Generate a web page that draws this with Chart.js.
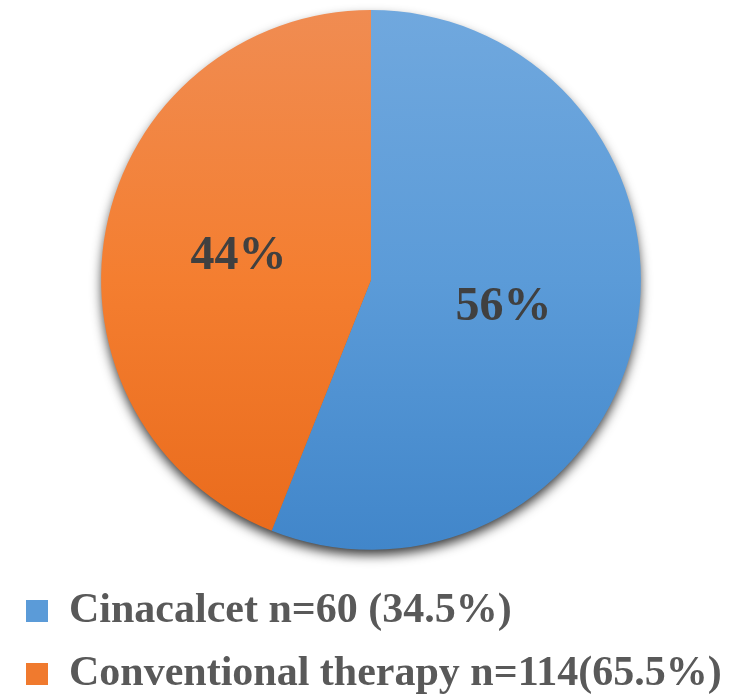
<!DOCTYPE html>
<html>
<head>
<meta charset="utf-8">
<script src="https://cdn.jsdelivr.net/npm/chart.js@4"></script>
<style>
  html, body { margin: 0; padding: 0; background: #ffffff; }
  #wrap { width: 747px; height: 698px; }
</style>
</head>
<body>
<div id="wrap"><canvas id="chart" width="747" height="698"></canvas></div>
<script>
// Treatment groups and their shares of the pie
const groups = ['Cinacalcet n=60 (34.5%)', 'Conventional therapy n=114(65.5%)'];
const shares = [56, 44];

// Vertical gradient stops per slice (top, middle, bottom)
const sliceTones = [
  ['#70a8de', '#5b9bd8', '#4186ca'],
  ['#f08c52', '#f47e30', '#e96a1b']
];
const legendTones = ['#5b9bd8', '#f07a2e'];

function sliceFill(ctx) {
  const chart = ctx.chart;
  const area = chart.chartArea;
  const i = ctx.dataIndex;
  if (!area || i === undefined) return legendTones[i || 0];
  const g = chart.ctx.createLinearGradient(0, area.top, 0, area.bottom);
  g.addColorStop(0, sliceTones[i][0]);
  g.addColorStop(0.5, sliceTones[i][1]);
  g.addColorStop(1, sliceTones[i][2]);
  return g;
}

// Soft drop shadow under the whole disc
const discShadow = {
  id: 'discShadow',
  beforeDatasetsDraw(chart) {
    const arc = chart.getDatasetMeta(0).data[0];
    if (!arc) return;
    const c = chart.ctx;
    c.save();
    c.shadowColor = 'rgba(0,0,0,0.8)';
    c.shadowBlur = 12;
    c.shadowOffsetY = 6;
    c.fillStyle = '#6e6e6e';
    c.beginPath();
    c.arc(arc.x, arc.y, arc.outerRadius - 1, 0, Math.PI * 2);
    c.fill();
    c.restore();
  }
};

// Percentage labels at the middle of each slice
const sliceLabels = {
  id: 'sliceLabels',
  afterDatasetsDraw(chart) {
    const c = chart.ctx;
    const meta = chart.getDatasetMeta(0);
    c.save();
    c.font = 'bold 48px "Liberation Serif", "Times New Roman", serif';
    c.fillStyle = '#404040';
    c.textAlign = 'center';
    c.textBaseline = 'middle';
    meta.data.forEach((arc, i) => {
      const p = arc.getCenterPoint();
      c.fillText(shares[i] + '%', p.x, p.y + 2);
    });
    c.restore();
  }
};

new Chart(document.getElementById('chart'), {
  type: 'pie',
  data: {
    labels: groups,
    datasets: [{
      data: shares,
      backgroundColor: sliceFill,
      borderWidth: 0
    }]
  },
  options: {
    responsive: false,
    animation: false,
    layout: { padding: { top: 10, left: 5, right: 10, bottom: -7 } },
    plugins: {
      tooltip: { enabled: false },
      legend: {
        position: 'bottom',
        align: 'start',
        title: { display: true, text: '', font: { size: 1 }, padding: { top: 0, bottom: 18 } },
        labels: {
          boxWidth: 22,
          boxHeight: 22,
          padding: 21,
          color: '#595959',
          font: { family: '"Liberation Serif", "Times New Roman", serif', size: 42, weight: 'bold' },
          generateLabels(chart) {
            return groups.map((t, i) => ({
              text: t,
              fillStyle: legendTones[i],
              strokeStyle: legendTones[i],
              lineWidth: 0,
              fontColor: '#595959',
              hidden: false,
              index: i
            }));
          }
        }
      }
    }
  },
  plugins: [discShadow, sliceLabels]
});
</script>
</body>
</html>
